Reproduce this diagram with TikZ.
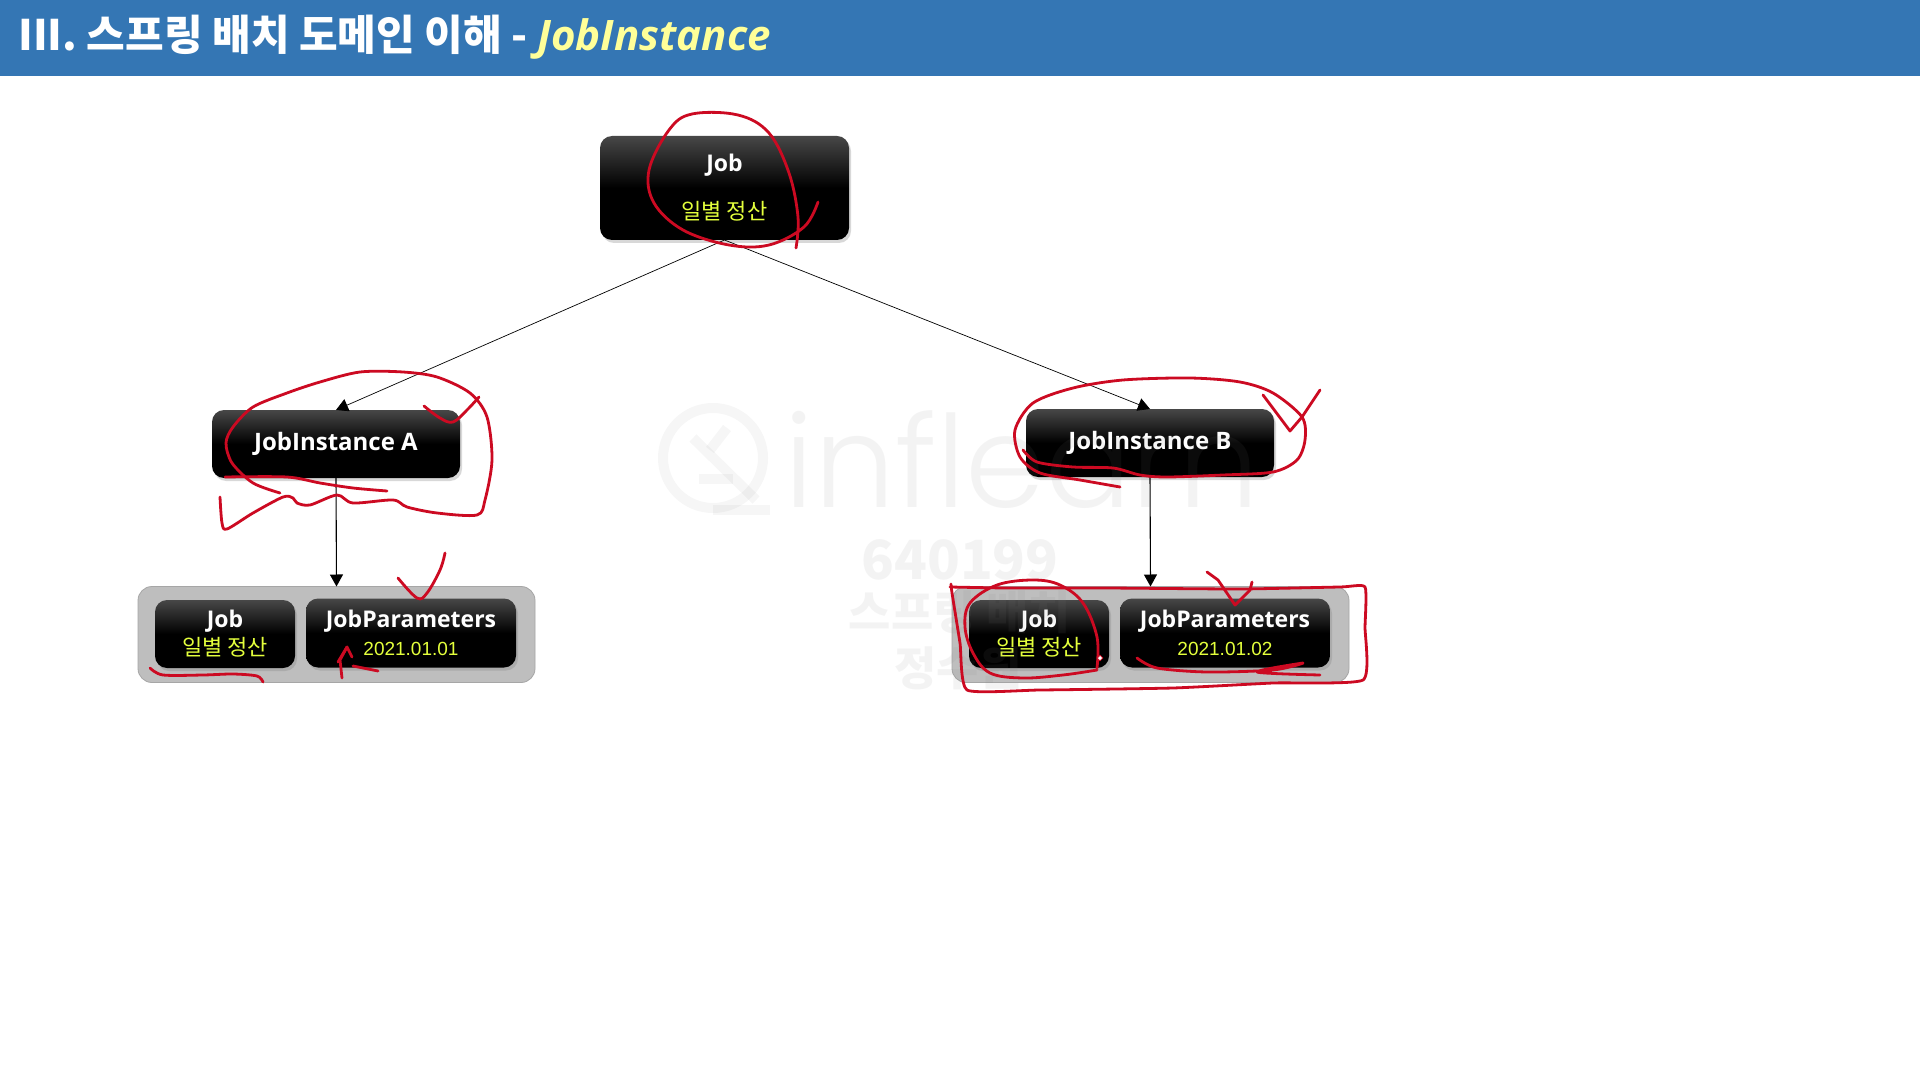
\documentclass[tikz,border=0pt]{standalone}
\usepackage{fontspec}
\setmainfont{Open Sans}
\newfontfamily\krfont{Noto Sans CJK KR}
\newfontfamily\datefont{Liberation Sans}
\newfontfamily\brandfont{Poppins Light}
\usetikzlibrary{arrows.meta, positioning, shadows, shapes.geometric}
\definecolor{headblue}{HTML}{3476B4}
\definecolor{titleyellow}{HTML}{FFFF99}
\definecolor{labelyellow}{HTML}{E4FF3C}
\definecolor{penred}{HTML}{CC0A22}
\definecolor{groupgray}{HTML}{BEBEBE}
\pgfdeclareverticalshading{boxgrad}{100bp}{color(0bp)=(black); color(50bp)=(black); color(75bp)=(black!72); color(100bp)=(black!72)}
\tikzset{
  dark/.style={rectangle, shading=boxgrad, rounded corners=6pt, outer sep=0pt, inner sep=0pt,
               align=center, text=white, font=\bfseries\fontsize{11.5}{14}\selectfont,
               drop shadow={shadow xshift=1pt, shadow yshift=-1.5pt, opacity=.3}},
  jobbox/.style={dark, minimum width=124.5pt, minimum height=52pt},
  instbox/.style={dark, minimum width=124pt, minimum height=34pt},
  smallbox/.style={dark, minimum width=70pt, minimum height=34pt},
  parambox/.style={dark, minimum width=105pt, minimum height=34.5pt},
  groupbox/.style={rectangle, draw=gray!70, fill=groupgray, rounded corners=7pt, outer sep=0pt,
                   minimum width=198.5pt, minimum height=48pt},
  arr/.style={-{Triangle[length=6pt,width=6.5pt]}, line width=.55pt},
  linkarr/.style={-{Triangle[length=6pt,width=6.5pt]}, line width=.35pt},
  pen/.style={draw=penred, line width=1.4pt, line cap=round, line join=round},
  wmline/.style={draw=gray, line width=5pt, opacity=.07},
  wmtext/.style={text=gray, opacity=.09, font=\krfont\bfseries\fontsize{23}{26}\selectfont},
}
\newcommand{\kor}[1]{{\krfont\mdseries\fontsize{11}{13}\selectfont\color{labelyellow}#1}}
\newcommand{\rundate}[1]{{\datefont\mdseries\fontsize{9.5}{13}\selectfont\color{labelyellow}#1}}
\begin{document}
\begin{tikzpicture}[x=0.5pt, y=-0.5pt]
  \useasboundingbox (0,0) rectangle (1920,1080);
  \fill[white] (0,0) rectangle (1920,1080);
  \fill[headblue] (0,0) rectangle (1920,76);
  \node[anchor=west, inner sep=0pt, text=white, font=\krfont\bfseries\fontsize{21}{24}\selectfont] (title) at (18,37)
    {III. 스프링 배치 도메인 이해 - {\color{titleyellow}\fontspec{Open Sans}\bfseries\itshape JobInstance}};

  % boxes
  \node[jobbox] (job) at (724.5,188) {Job\\[10pt]\kor{일별 정산}};
  \node[instbox] (instA) at (336,444) {\fontsize{12}{14}\selectfont JobInstance A};
  \node[instbox] (instB) at (1150,443) {\fontsize{12}{14}\selectfont JobInstance B};

  \node[groupbox] (groupA) at (336.5,634.5) {};
  \node[smallbox] (jobA) at (225,634) {Job\\\kor{일별 정산}};
  \node[parambox, right=5.5pt of jobA, yshift=.5pt] (paramA) {JobParameters\\\rundate{2021.01.01}};

  \node[groupbox] (groupB) at (1150.5,634.5) {};
  \node[smallbox] (jobB) at (1039,634) {Job\\\kor{일별 정산}};
  \node[parambox, right=5.5pt of jobB, yshift=.5pt] (paramB) {JobParameters\\\rundate{2021.01.02}};

  % links
  \draw[linkarr] (job.south) -- (instA.north);
  \draw[linkarr] (job.south) -- (instB.north);
  \draw[arr] (instA.south) -- (groupA.north);
  \draw[arr] (instB.south) -- (groupB.north);

  % watermark
  \draw[wmline] (713,458) circle[radius=50];
  \draw[wmline] (693,438) -- (756,500);
  \draw[wmline] (727,428) -- (710,450);
  \draw[wmline] (699,479) -- (733,479);
  \draw[wmline] (713,510) -- (770,510);
  \node[text=gray, opacity=.09, font=\brandfont\fontsize{64}{70}\selectfont, inner sep=0pt] (brand) at (1022,460) {inflearn};
  \node[wmtext, font=\krfont\bfseries\fontsize{27}{30}\selectfont] (wmid) at (960,560) {640199};
  \node[wmtext] (wmcourse) at (960,612) {스프링 배치};
  \node[wmtext] (wmname) at (958,668) {정수원};

  % pen marks, Job
  \draw[pen] plot[smooth, tension=.6] coordinates {(796,248) (798,217) (789,173) (769,133) (738,115) (692,114) (669,130) (649,170) (654,203) (683,230) (729,245) (769,245) (804,227) (818,202)};
  % pen marks, left side
  \draw[pen] plot[smooth, tension=.6] coordinates {(424,406) (440,418) (453,422) (467,410) (479,397)};
  \draw[pen] plot[smooth, tension=.5] coordinates {(220,497) (222,523) (227,529) (253,513) (283,497) (293,498) (297,503) (310,505) (337,495) (353,503) (393,500) (407,507) (437,513) (477,515) (485,500) (492,460) (487,417) (470,393) (437,377) (403,372) (360,372) (320,382) (287,393) (253,407) (233,427) (226,443) (232,463) (253,483) (280,493)};
  \draw[pen] plot[smooth, tension=.5] coordinates {(225,477) (287,477) (320,483) (353,488) (387,491)};
  \draw[pen] plot[smooth, tension=.6] coordinates {(398,578) (417,598) (427,593) (440,570) (445,553)};
  \draw[pen] plot[smooth, tension=.5] coordinates {(150,668) (163,675) (203,675) (233,674) (257,676) (263,682)};
  \draw[pen] (342,678) -- (340,660) -- (347,647) -- (352,657);
  \draw[pen] (338,662) -- (347,647);
  \draw[pen] (353,666) -- (378,671);
  % pen marks, right side
  \draw[pen] (1263,395) -- (1290,431) -- (1302,417) -- (1320,390);
  \draw[pen] plot[smooth, tension=.5] coordinates {(1023,450) (1037,462) (1073,467) (1113,468) (1140,475) (1167,477) (1223,475) (1273,472) (1297,460) (1305,440) (1302,417) (1273,393) (1240,382) (1190,378) (1123,380) (1073,388) (1033,403) (1015,430) (1020,457) (1040,473) (1080,480) (1120,487)};
  \draw[pen] plot[smooth, tension=.3] coordinates {(951,584) (952,593) (960,643) (967,690) (1040,690) (1173,688) (1273,683) (1363,680) (1365,627) (1365,587) (1340,587) (1240,589) (1107,588) (1007,588) (950,587)};
  \draw[pen] plot[smooth, tension=.6] coordinates {(1097,668) (1097,637) (1083,603) (1060,585) (1033,580) (997,585) (970,603) (965,627) (973,653) (990,673) (1023,678) (1063,675) (1097,670)};
  \draw[pen] (1207,572) -- (1218,580) -- (1235,605) -- (1250,590) -- (1252,582);
  \draw[pen] plot[smooth, tension=.5] coordinates {(1137,658) (1157,668) (1207,672) (1273,670) (1303,663) (1257,672) (1320,675)};
  \node[diamond, draw=penred, fill=white, line width=.4pt, inner sep=0pt, minimum size=3pt] (cursor) at (1100,658) {};
\end{tikzpicture}
\end{document}
